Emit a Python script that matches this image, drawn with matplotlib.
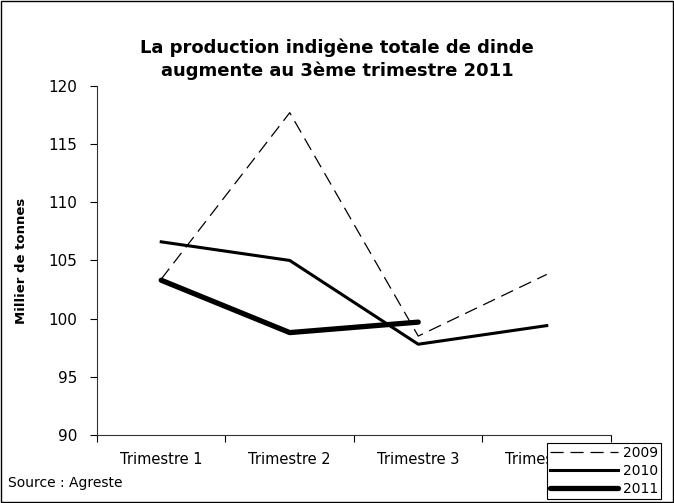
import matplotlib.pyplot as plt
from matplotlib.patches import Rectangle

plt.rcParams["font.family"] = ["DejaVu Sans"]

quarters = ["Trimestre 1", "Trimestre 2", "Trimestre 3", "Trimestre 4"]
prod_2009 = [103.4, 117.7, 98.5, 103.8]
prod_2010 = [106.6, 105.0, 97.8, 99.4]
prod_2011 = [103.3, 98.8, 99.7]


def main() -> None:
    fig = plt.figure(figsize=(6.74, 5.03), dpi=100)
    ax = fig.add_axes([0.1439, 0.1352, 0.7626, 0.694])

    x = range(len(quarters))
    ax.plot(x, prod_2009, color="black", lw=0.9, dashes=(10.5, 5.5), label="2009")
    ax.plot(x, prod_2010, color="black", lw=2.2, label="2010")
    ax.plot(range(len(prod_2011)), prod_2011, color="black", lw=3.8,
            solid_capstyle="round", label="2011")

    ax.set_xlim(-0.5, 3.5)
    ax.set_ylim(90, 120)
    ax.set_yticks(range(90, 121, 5))
    ax.set_xticks([-0.5, 0.5, 1.5, 2.5, 3.5])
    ax.set_xticklabels([])
    ax.set_xticks(list(x), minor=True)
    ax.set_xticklabels(quarters, minor=True)
    ax.tick_params(axis="x", which="minor", length=0, labelsize=10.5, pad=12)
    ax.tick_params(axis="x", which="major", length=5, direction="out")
    ax.tick_params(axis="y", length=5, labelsize=11, pad=9)
    for s in ("top", "right"):
        ax.spines[s].set_visible(False)
    for s in ("left", "bottom"):
        ax.spines[s].set_color("#333333")

    ax.set_ylabel("Millier de tonnes", fontsize=9.5, fontweight="bold", labelpad=15)
    fig.text(0.5, 0.882, "La production indigène totale de dinde\naugmente au 3ème trimestre 2011",
             ha="center", va="center", fontsize=13, fontweight="bold", linespacing=1.35)
    fig.text(0.012, 0.04, "Source : Agreste", fontsize=10, ha="left", va="center")

    leg = fig.legend(loc="upper left", bbox_to_anchor=(547 / 674, 1 - 443 / 503),
                     frameon=True, fancybox=False, fontsize=10, handlelength=4.9,
                     handletextpad=0.35, borderpad=0.2, labelspacing=0.3,
                     borderaxespad=0, framealpha=1)
    leg.get_frame().set_edgecolor("black")
    leg.get_frame().set_linewidth(0.8)

    fig.patches.append(Rectangle((0.002, 0.002), 0.996, 0.996, transform=fig.transFigure,
                                 fill=False, edgecolor="black", lw=1))

    fig.savefig("out.png", dpi=100)


if __name__ == "__main__":
    main()
